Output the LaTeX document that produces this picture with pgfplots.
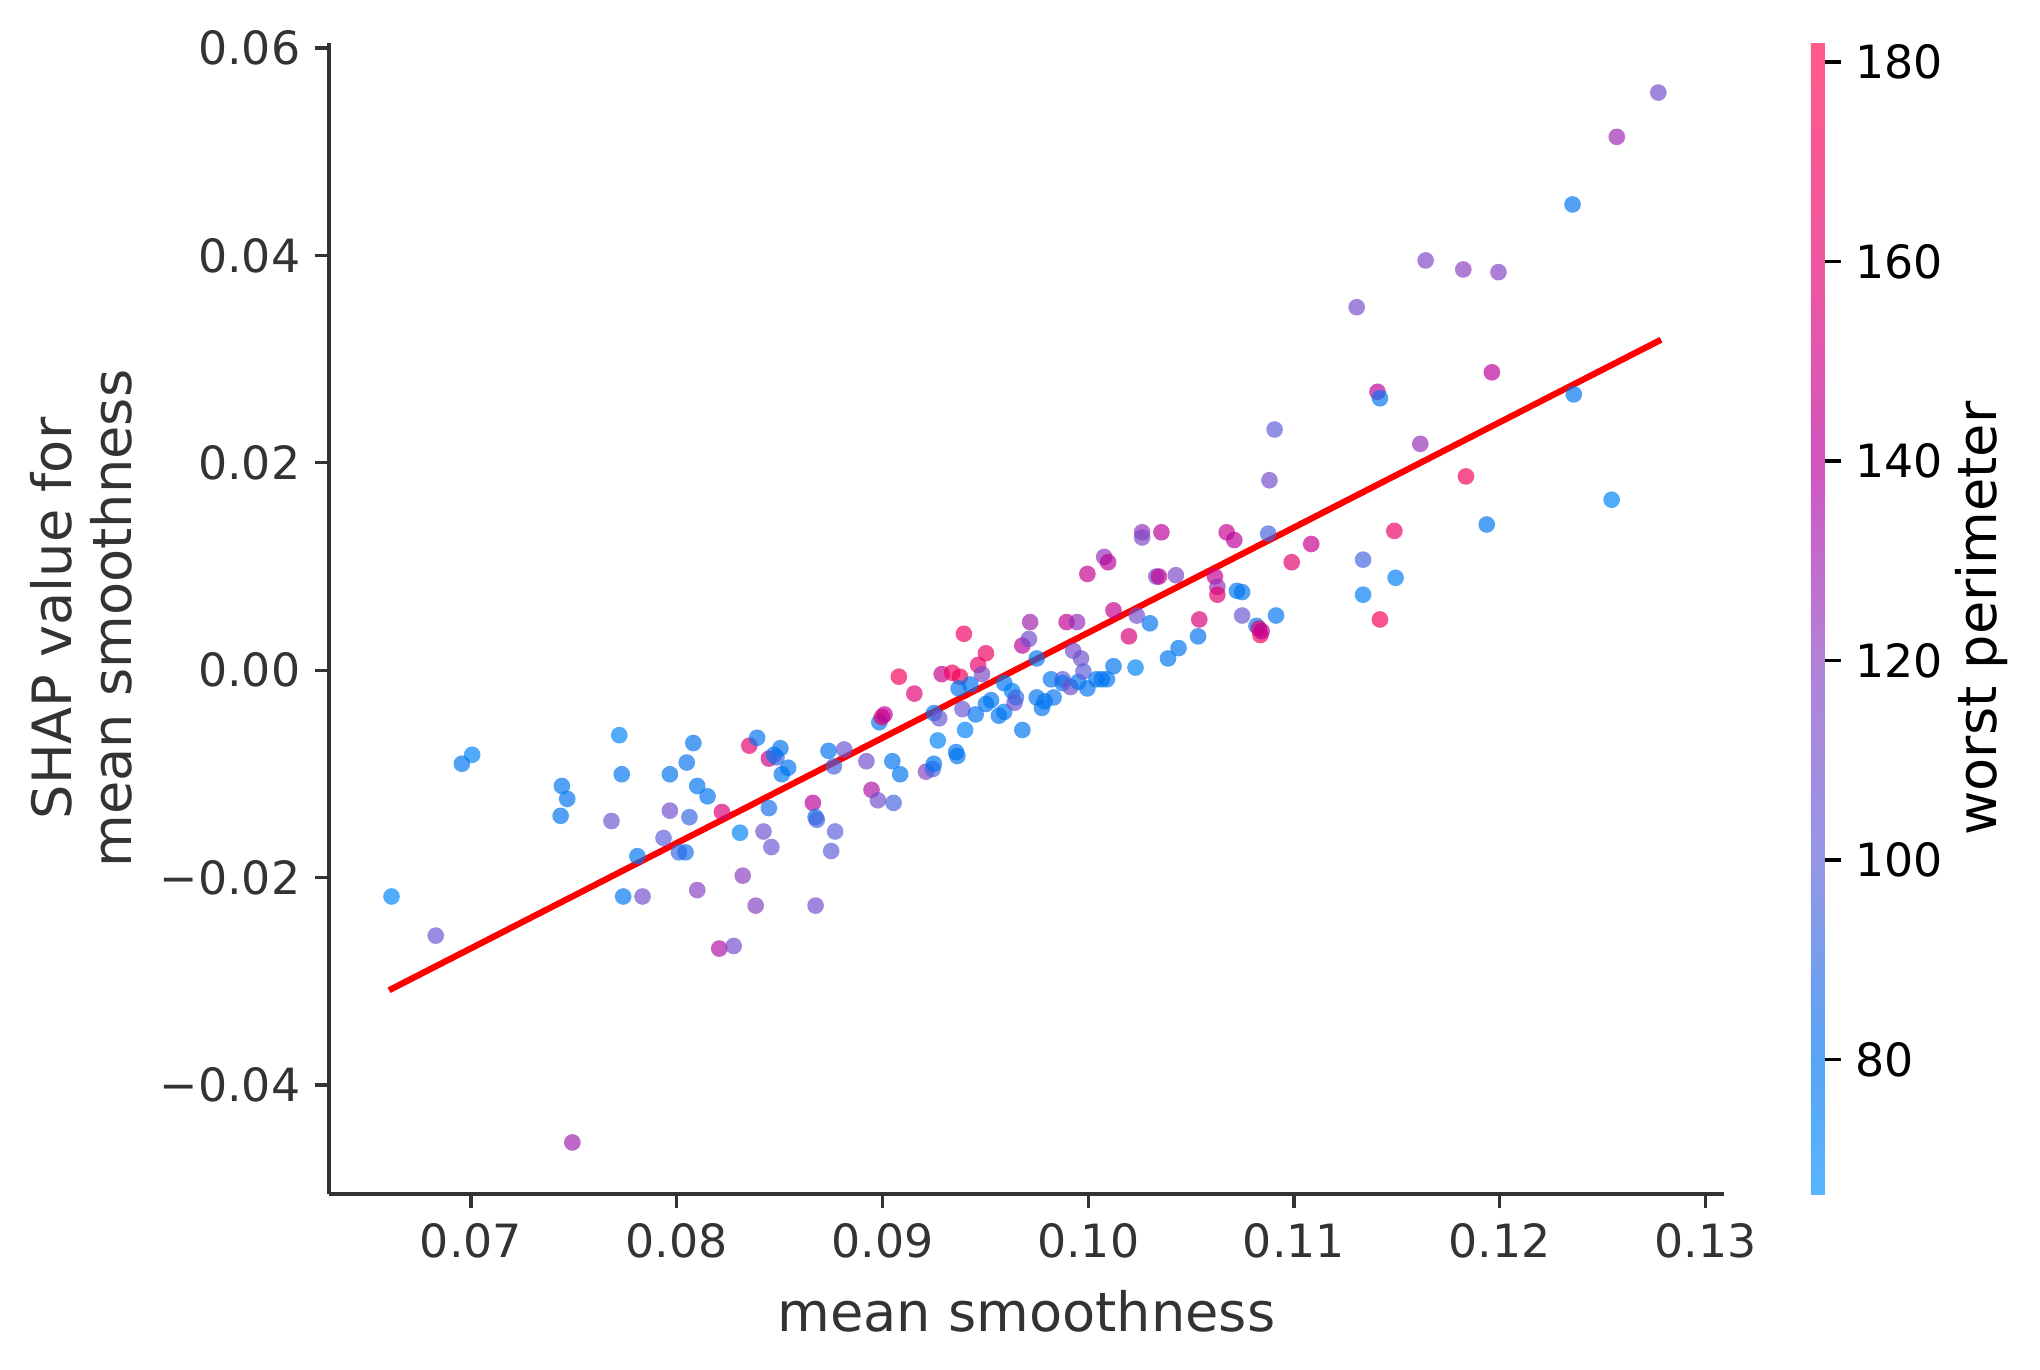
\documentclass[border=0pt]{standalone}
\usepackage{fontspec}
\setmainfont{DejaVu Sans}
\usepackage{pgfplots}
\pgfplotsset{compat=1.18}
\definecolor{tx}{HTML}{333333}
\pgfplotsset{
  colormap={shaplight}{rgb255(0cm)=(90,180,255); rgb255(1.17cm)=(88,165,245); rgb255(2.9cm)=(150,150,230); rgb255(4.64cm)=(178,130,215); rgb255(6.37cm)=(210,85,190); rgb255(8.1cm)=(238,88,160); rgb255(9.83cm)=(255,90,140); rgb255(10cm)=(255,90,138)},
  colormap={shapfull}{rgb255(0cm)=(0,139,251); rgb255(1.17cm)=(0,117,240); rgb255(2.9cm)=(93,93,217); rgb255(4.64cm)=(137,63,193); rgb255(6.37cm)=(186,0,155); rgb255(8.1cm)=(229,0,109); rgb255(9.83cm)=(255,1,78); rgb255(10cm)=(255,0,76)},
}
\begin{document}
\begin{tikzpicture}
\path[use as bounding box] (-79pt,-42pt) rectangle (410.6pt,286.6pt);
\begin{axis}[
  at={(0,0)}, anchor=south west,
  scale only axis, width=334.7pt, height=276.3pt,
  xmin=0.06311, xmax=0.13089, ymin=-0.05054, ymax=0.0605,
  scaled x ticks=false, scaled y ticks=false,
  axis x line*=bottom, axis y line*=left,
  axis line style={tx, line width=0.8pt, -},
  tick style={tx, line width=0.8pt},
  tick align=outside, major tick length=3.4pt,
  xtick={0.07,0.08,0.09,0.10,0.11,0.12,0.13},
  xticklabels={0.07,0.08,0.09,0.10,0.11,0.12,0.13},
  ytick={-0.04,-0.02,0,0.02,0.04,0.06},
  yticklabels={−0.04,−0.02,0.00,0.02,0.04,0.06},
  ticklabel style={font=\fontsize{11}{13}\selectfont, text=tx},
  xlabel={mean smoothness},
  ylabel={SHAP value for\\mean smoothness},
  label style={font=\fontsize{13}{14.4}\selectfont, text=tx},
  xlabel style={at={(axis description cs:0.5,-0.1016)}, anchor=center},
  ylabel style={at={(axis description cs:-0.178,0.5)}, anchor=center, align=center},
  colormap name=shapfull,
  point meta min=66.5, point meta max=181.9,
  colorbar right,
  colorbar style={
    at={(1.0624,0)}, anchor=south west,
    scale only axis, width=3.4pt, height=276.3pt,
    colormap name=shaplight,
    scaled y ticks=false,
    axis line style={draw=none},
    ytick={80,100,120,140,160,180},
    yticklabels={80,100,120,140,160,180},
    yticklabel pos=right, ytick pos=right,
    tick align=outside, major tick length=3.8pt,
    tick style={black, line width=0.8pt},
    yticklabel style={font=\fontsize{11}{13}\selectfont, text=black},
    ylabel={worst perimeter},
    ylabel style={font=\fontsize{13}{15}\selectfont, text=black, at={(axis description cs:12.06,0.5)}, anchor=center},
  },
]
\addplot[scatter, only marks, mark=*, mark size=2pt, scatter src=explicit,
  scatter/use mapped color={draw=mapped color, draw opacity=0, fill=mapped color, fill opacity=0.68}]
  table[x=x, y=y, meta=c] {
x y c
0.06614 -0.02183 70
0.06829 -0.02560 105
0.06956 -0.00903 80
0.07006 -0.00816 72
0.07442 -0.01117 80
0.07468 -0.01242 80
0.07436 -0.01405 80
0.07493 -0.04555 130
0.07683 -0.01455 105
0.07721 -0.00627 72
0.07733 -0.01004 80
0.07740 -0.02183 78
0.07809 -0.01794 80
0.07834 -0.02183 110
0.07936 -0.01619 100
0.07967 -0.01004 80
0.07967 -0.01355 110
0.08011 -0.01757 92
0.08043 -0.01757 85
0.08049 -0.00891 82
0.08062 -0.01418 92
0.08081 -0.00703 80
0.08100 -0.01117 80
0.08100 -0.02121 120
0.08150 -0.01217 80
0.08207 -0.02685 135
0.08220 -0.01368 155
0.08277 -0.02660 110
0.08308 -0.01568 72
0.08321 -0.01982 120
0.08353 -0.00728 160
0.08391 -0.00652 80
0.08384 -0.02271 118
0.08422 -0.01556 108
0.08448 -0.00853 150
0.08460 -0.01706 105
0.08448 -0.01330 85
0.08473 -0.00816 80
0.08485 -0.00841 92
0.08504 -0.00753 80
0.08511 -0.01004 80
0.08542 -0.00941 80
0.08662 -0.01280 140
0.08675 -0.01418 82
0.08681 -0.01443 95
0.08675 -0.02271 110
0.08738 -0.00778 80
0.08764 -0.00928 95
0.08770 -0.01556 100
0.08751 -0.01744 100
0.08814 -0.00765 105
0.08922 -0.00878 110
0.08947 -0.01154 135
0.08978 -0.01255 110
0.08985 -0.00502 80
0.08997 -0.00452 165
0.09010 -0.00427 140
0.09048 -0.00878 80
0.09054 -0.01280 95
0.09080 -0.00063 170
0.09086 -0.01004 80
0.09155 -0.00226 158
0.09212 -0.00979 120
0.09244 -0.00954 95
0.09250 -0.00903 80
0.09250 -0.00414 82
0.09269 -0.00678 72
0.09276 -0.00464 105
0.09288 -0.00038 145
0.09339 -0.00025 168
0.09358 -0.00790 80
0.09364 -0.00828 80
0.09377 -0.00063 172
0.09370 -0.00176 80
0.09389 -0.00376 105
0.09402 -0.00577 72
0.09396 0.00351 168
0.09427 -0.00138 80
0.09465 0.00050 165
0.09453 -0.00427 80
0.09484 -0.00038 115
0.09503 0.00163 168
0.09503 -0.00326 80
0.09528 -0.00289 80
0.09566 -0.00439 80
0.09592 -0.00125 80
0.09592 -0.00402 78
0.09630 -0.00201 72
0.09642 -0.00314 110
0.09649 -0.00263 92
0.09680 -0.00577 80
0.09680 0.00238 140
0.09712 0.00301 110
0.09718 0.00464 130
0.09750 0.00113 80
0.09750 -0.00263 80
0.09775 -0.00364 80
0.09788 -0.00301 80
0.09819 -0.00088 80
0.09832 -0.00263 82
0.09876 -0.00088 100
0.09876 -0.00125 80
0.09895 0.00464 145
0.09914 -0.00163 110
0.09927 0.00188 110
0.09946 0.00464 125
0.09952 -0.00113 80
0.09965 0.00113 108
0.09977 -0.00013 100
0.09996 0.00928 145
0.09996 -0.00176 80
0.10040 -0.00088 80
0.10066 -0.00088 80
0.10078 0.01092 125
0.10097 0.01041 140
0.10091 -0.00088 80
0.10123 0.00577 145
0.10123 0.00038 80
0.10198 0.00326 155
0.10230 0.00025 72
0.10236 0.00527 110
0.10262 0.01330 125
0.10262 0.01280 115
0.10300 0.00452 80
0.10331 0.00903 110
0.10344 0.00903 145
0.10356 0.01330 140
0.10388 0.00113 80
0.10426 0.00916 115
0.10439 0.00213 80
0.10534 0.00326 80
0.10540 0.00489 155
0.10616 0.00903 145
0.10628 0.00803 125
0.10628 0.00728 160
0.10673 0.01330 145
0.10710 0.01255 140
0.10723 0.00765 80
0.10748 0.00753 80
0.10748 0.00527 105
0.10818 0.00427 80
0.10830 0.00401 165
0.10837 0.00339 172
0.10843 0.00376 140
0.10875 0.01317 95
0.10881 0.01832 112
0.10906 0.02321 100
0.10913 0.00527 80
0.10989 0.01041 160
0.11084 0.01217 145
0.11305 0.03501 112
0.11336 0.01066 95
0.11336 0.00728 75
0.11406 0.02685 140
0.11418 0.02622 80
0.11418 0.00489 172
0.11488 0.01343 165
0.11494 0.00891 75
0.11614 0.02183 125
0.11640 0.03952 115
0.11823 0.03865 120
0.11836 0.01869 172
0.11937 0.01405 80
0.11962 0.02873 140
0.11994 0.03839 118
0.12354 0.04492 80
0.12360 0.02660 80
0.12544 0.01644 72
0.12569 0.05144 128
0.12771 0.05571 110
};
\addplot[red, line width=1.5pt] coordinates {(0.06602,-0.03087) (0.12784,0.03187)};
\end{axis}
\end{tikzpicture}
\end{document}
